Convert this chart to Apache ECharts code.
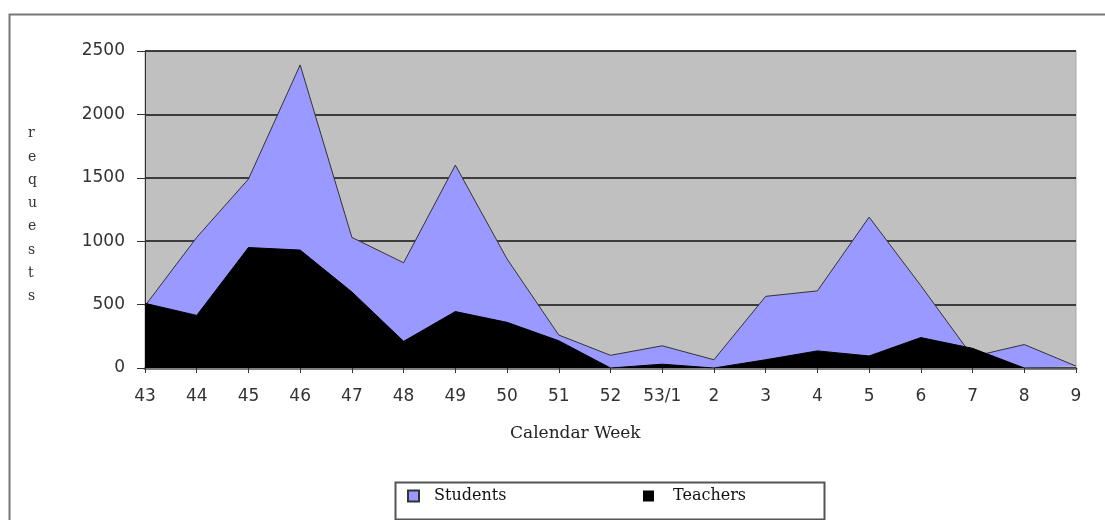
<!DOCTYPE html>
<html>
<head>
<meta charset="utf-8">
<script src="https://cdn.jsdelivr.net/npm/echarts@6/dist/echarts.min.js"></script>
<style>html,body{margin:0;padding:0;background:#fff}#c{width:1105px;height:520px}</style>
</head>
<body>
<div id="c"></div>
<script>
const weeks = ['43','44','45','46','47','48','49','50','51','52','53/1','2','3','4','5','6','7','8','9'];
const students = [490,1030,1490,2390,1030,830,1600,860,260,100,175,65,565,608,1190,650,90,185,15];
const teachers = [510,415,950,930,600,210,445,360,215,0,30,0,65,135,95,240,155,0,0];
const yTicks = [0,500,1000,1500,2000,2500];

const chart = echarts.init(document.getElementById('c'), null, {renderer:'canvas'});
chart.setOption({
  animation:false,
  backgroundColor:'#fff',
  grid:{left:145,right:29,top:51,bottom:152,show:true,backgroundColor:'#c0c0c0',borderColor:'#a8a8a8',borderWidth:1},
  xAxis:{
    type:'category', data:weeks, boundaryGap:false,
    axisLine:{show:true,lineStyle:{color:'#808080',width:3}},
    axisTick:{show:true,alignWithLabel:true,length:5,lineStyle:{color:'#333',width:1}},
    axisLabel:{interval:0,margin:20,color:'#333',fontFamily:'DejaVu Sans',fontSize:17},
    splitLine:{show:false}
  },
  yAxis:{
    type:'value', min:yTicks[0], max:yTicks[yTicks.length-1], interval:500,
    axisLine:{show:true,lineStyle:{color:'#333',width:1}},
    axisTick:{show:true,length:8,lineStyle:{color:'#333'}},
    axisLabel:{margin:20,color:'#333',fontFamily:'DejaVu Sans',fontSize:17,formatter:function(v){return String(v);}},
    splitLine:{show:true,lineStyle:{color:'#111',width:1.5}}
  },
  legend:[
    {data:['Students'],left:402,top:483,orient:'horizontal',itemWidth:11,itemHeight:11,icon:'rect',itemGap:0,
     textStyle:{fontFamily:'DejaVu Serif',fontSize:16,color:'#111',padding:[0,0,0,10]}},
    {data:['Teachers'],left:638,top:483,orient:'horizontal',itemWidth:11,itemHeight:11,icon:'rect',itemGap:0,
     textStyle:{fontFamily:'DejaVu Serif',fontSize:16,color:'#111',padding:[0,0,0,14]}}
  ],
  graphic:[
    {type:'rect',left:7,top:12,shape:{width:1200,height:600},style:{fill:'none',stroke:'#777',lineWidth:2},silent:true,z:-1},
    {type:'rect',left:393,top:480,shape:{width:429,height:37},style:{fill:'none',stroke:'#555',lineWidth:2},silent:true},
    {type:'text',left:28,top:122,style:{text:'r\ne\nq\nu\ne\ns\nt\ns',fontFamily:'DejaVu Serif',fontSize:14,lineHeight:23.3,fill:'#333',align:'center'}},
    {type:'text',left:510,top:425,style:{text:'Calendar Week',fontFamily:'DejaVu Serif',fontSize:17,fill:'#222'}}
  ],
  series:[
    {name:'Students',type:'line',data:students,symbol:'none',z:2,
     lineStyle:{color:'#333',width:1},itemStyle:{color:'#9999ff',borderColor:'#333',borderWidth:1},
     areaStyle:{color:'#9999ff',opacity:1}},
    {name:'Teachers',type:'line',data:teachers,symbol:'none',z:3,
     lineStyle:{color:'#000',width:1},itemStyle:{color:'#000'},
     areaStyle:{color:'#000',opacity:1}}
  ]
});
</script>
</body>
</html>
